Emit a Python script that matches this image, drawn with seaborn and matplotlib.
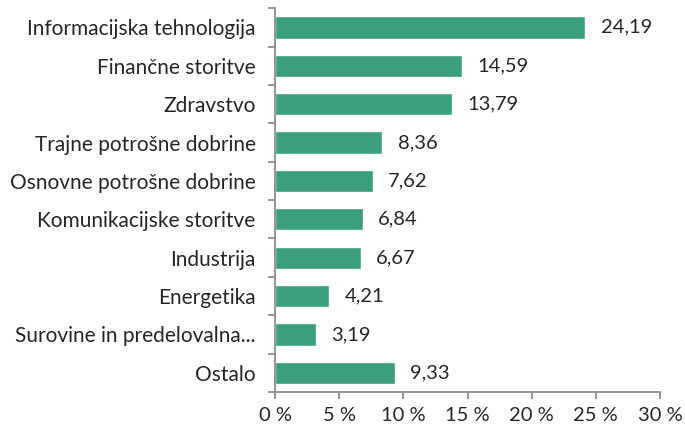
import matplotlib
matplotlib.use("Agg")
import matplotlib.pyplot as plt
import matplotlib.ticker as mticker
import seaborn as sns
import pandas as pd
import numpy as np

sectors = [
    "Informacijska tehnologija",
    "Finančne storitve",
    "Zdravstvo",
    "Trajne potrošne dobrine",
    "Osnovne potrošne dobrine",
    "Komunikacijske storitve",
    "Industrija",
    "Energetika",
    "Surovine in predelovalna...",
    "Ostalo",
]
weights = [24.19, 14.59, 13.79, 8.36, 7.62, 6.84, 6.67, 4.21, 3.19, 9.33]
x_ticks = [0, 5, 10, 15, 20, 25, 30]

df = pd.DataFrame({"sector": sectors, "weight": weights})

sns.set_theme(style="white")
plt.rcParams["font.family"] = ["Lato", "DejaVu Sans"]

fig = plt.figure(figsize=(6.85, 4.26), dpi=100)
ax = fig.add_axes([0.4015, 0.0798, 0.562, 0.901])

bar_color = "#3a9e7f"
fs = 14.5
text_color = "#262626"
sns.barplot(data=df, x="weight", y="sector", orient="h", color=bar_color,
            width=0.58, saturation=1, ax=ax)

for i, v in enumerate(weights):
    ax.text(v + 1.2, i, f"{v:.2f}".replace(".", ","), va="center", ha="left",
            fontsize=fs, color=text_color)

ax.set_xlim(0, 30)
ax.set_ylim(len(sectors) - 0.5, -0.5)
ax.set_xticks(x_ticks)
ax.set_xticklabels([f"{t} %" for t in x_ticks])
ax.set_xlabel("")
ax.set_ylabel("")

spine_color = "#8c8c8c"
for side in ["top", "right"]:
    ax.spines[side].set_visible(False)
for side in ["left", "bottom"]:
    ax.spines[side].set_color(spine_color)
    ax.spines[side].set_linewidth(1.3)

# category separators as minor ticks on the y axis
ax.yaxis.set_minor_locator(mticker.FixedLocator(np.arange(-0.5, len(sectors), 1.0)))
ax.tick_params(axis="y", which="major", length=0, pad=14, labelsize=15, labelcolor=text_color)
ax.tick_params(axis="y", which="minor", left=True, length=5, width=1.3, color=spine_color, direction="out")
ax.tick_params(axis="x", which="major", bottom=True, length=5, width=1.3, color=spine_color,
               direction="out", pad=6, labelsize=fs, labelcolor=text_color)

fig.savefig("out.png", dpi=100)
